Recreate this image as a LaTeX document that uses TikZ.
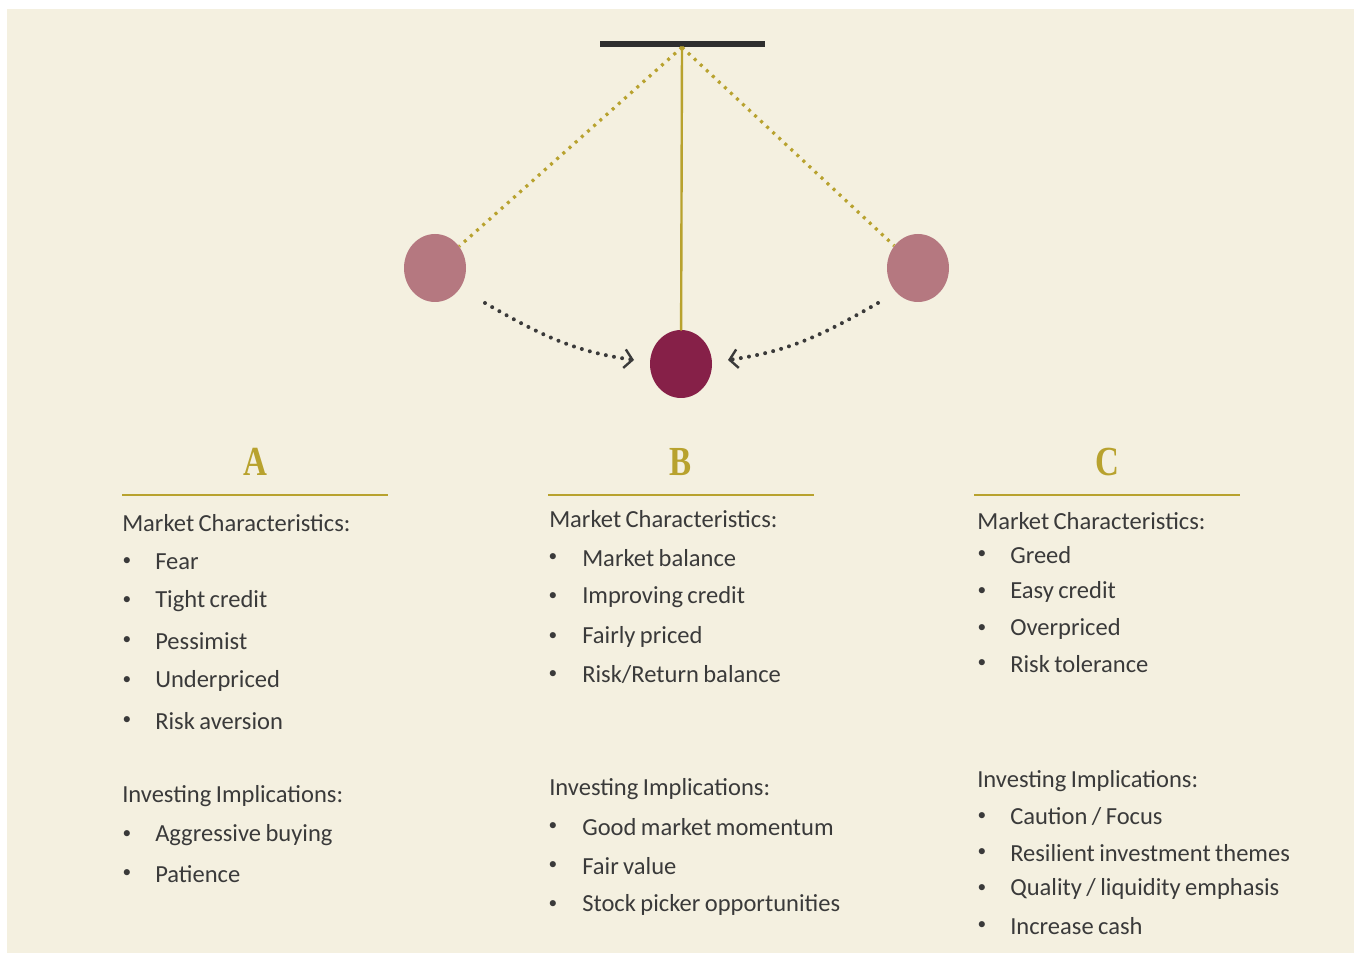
\documentclass[tikz,border=0pt]{standalone}
\usepackage{fontspec}
\setmainfont[WordSpace={0.8,1,1}]{Carlito}
\newfontfamily\headfont{Liberation Serif}
\usepackage{tikz}
\usetikzlibrary{arrows.meta}
\usetikzlibrary{positioning}
\usetikzlibrary{shapes.geometric}
\definecolor{paper}{HTML}{F4F0E0}
\definecolor{gold}{HTML}{B8A22E}
\definecolor{wine}{HTML}{862048}
\definecolor{rose}{HTML}{B57880}
\definecolor{ink}{HTML}{3A3A3A}
\definecolor{barc}{HTML}{2E2E2E}

\begin{document}
\begin{tikzpicture}[line cap=round,line join=round,x=0.75pt,y=-0.75pt,
  txt/.style={anchor=west,inner sep=0pt,text=ink,font=\fontsize{18.4}{20}\selectfont},
  bul/.style={inner sep=0pt,text=ink,font=\fontsize{13}{15}\selectfont},
  head/.style={inner sep=0pt,text=gold,font=\headfont\bfseries\fontsize{31}{34}\selectfont},
  rule/.style={gold,line width=1.5pt,line cap=butt},
  bob/.style={ellipse,minimum width=46.5pt,minimum height=51pt,inner sep=0pt},
  swing/.style={gold,line width=2.4pt,line cap=butt,dash pattern=on 2.2pt off 4pt},
  back/.style={ink,line width=3pt,dash pattern=on 0pt off 6.2pt,
    -{Straight Barb[length=6pt,width=14pt,line width=1.8pt]}}]
\useasboundingbox (0,0) rectangle (1357,955);
\fill[paper] (7,9) rectangle (1354,953);
% pendulum
\node[fill=barc,minimum width=123.75pt,minimum height=4.5pt,inner sep=0pt] (bar) at (682,44) {};
\node[bob,fill=wine] (mid) at (681,364) {};
\node[bob,fill=rose] (left) at (435,268) {};
\node[bob,fill=rose] (right) at (918,268) {};
\draw[gold,line width=1.8pt] (bar.south) -- (mid);
\draw[swing] (bar.south) -- (left);
\draw[swing] (bar.south) -- (right);
\coordinate (l1) at (485,303);
\coordinate (l2) at (634,360);
\coordinate (r1) at (878,303);
\coordinate (r2) at (728,360);
\draw[back] (l1) to[out=-30,in=172] (l2);
\draw[back] (r1) to[out=210,in=8] (r2);
% headings
\node[head] (hA) at (255,462) {\scalebox{0.8}[1]{A}};
\node[head] (hB) at (681,462) {\scalebox{0.8}[1]{B}};
\node[head] (hC) at (1107,462) {\scalebox{0.8}[1]{C}};
\draw[rule] (122,495) -- (388,495);
\draw[rule] (548,495) -- (814,495);
\draw[rule] (974,495) -- (1240,495);
% column A
\node[txt] (mA) at (122,523) {Market Characteristics:};
\foreach \y/\t in {562/Fear,601/Tight credit,641/Pessimist,681/Underpriced,721/Risk aversion}{
  \node[bul] (ba\y) at (127,\y) {•};
  \node[txt] (ta\y) at (155,\y) {\t};
}
\node[txt] (iA) at (122,796) {Investing Implications:};
\foreach \y/\t in {835/Aggressive buying,874/Patience}{
  \node[bul] (ba\y) at (127,\y) {•};
  \node[txt] (ta\y) at (155,\y) {\t};
}
% column B
\node[txt] (mB) at (549,519) {Market Characteristics:};
\foreach \y/\t in {558/Market balance,597/Improving credit,637/Fairly priced,675/{Risk/Return balance}}{
  \node[bul] (bb\y) at (553,\y) {•};
  \node[txt] (tb\y) at (582,\y) {\t};
}
\node[txt] (iB) at (549,789) {Investing Implications:};
\foreach \y/\t in {827/Good market momentum,866/Fair value,905/Stock picker opportunities}{
  \node[bul] (bb\y) at (553,\y) {•};
  \node[txt] (tb\y) at (582,\y) {\t};
}
% column C
\node[txt] (mC) at (977,521) {Market Characteristics:};
\foreach \y/\t in {555/Greed,592/Easy credit,629/Overpriced,664/Risk tolerance}{
  \node[bul] (bc\y) at (982,\y) {•};
  \node[txt] (tc\y) at (1010,\y) {\t};
}
\node[txt] (iC) at (977,781) {Investing Implications:};
\foreach \y/\t in {817/{Caution / Focus},853/Resilient investment themes,889/{Quality / liquidity emphasis},926/Increase cash}{
  \node[bul] (bc\y) at (982,\y) {•};
  \node[txt] (tc\y) at (1010,\y) {\t};
}
\end{tikzpicture}
\end{document}
